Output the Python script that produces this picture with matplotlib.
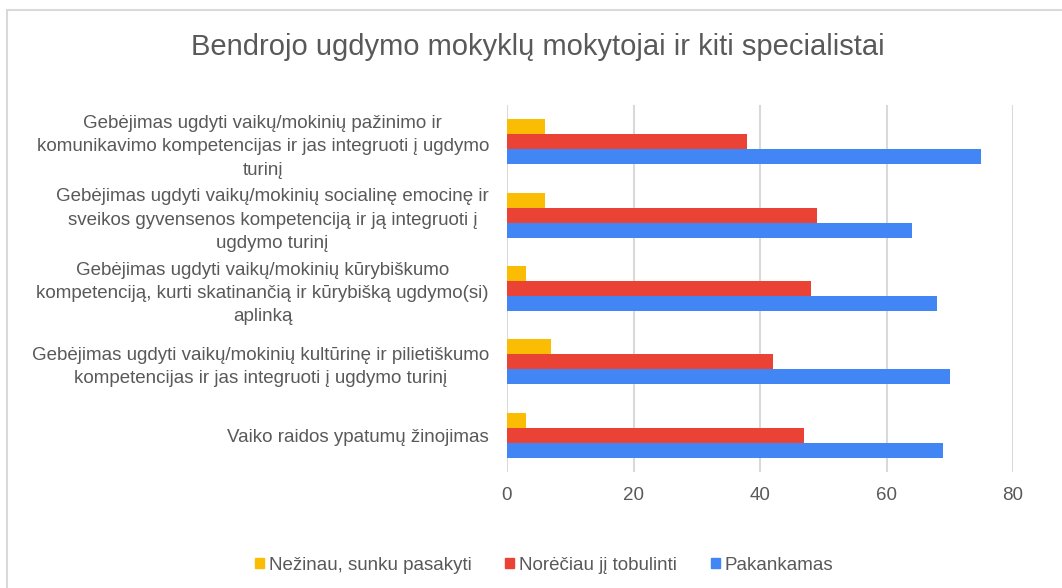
import matplotlib
matplotlib.use("Agg")
import matplotlib.pyplot as plt
import numpy as np
from matplotlib.patches import Patch, Rectangle

plt.rcParams["font.family"] = ["Liberation Sans", "DejaVu Sans"]

# ------------------------------------------------------------------ data
categories = [
    "Gebėjimas ugdyti vaikų/mokinių pažinimo ir\n"
    "komunikavimo kompetencijas ir jas integruoti į ugdymo\nturinį",
    "Gebėjimas ugdyti vaikų/mokinių socialinę emocinę ir\n"
    "sveikos gyvensenos kompetenciją ir ją integruoti į\nugdymo turinį",
    "Gebėjimas ugdyti vaikų/mokinių kūrybiškumo\n"
    "kompetenciją, kurti skatinančią ir kūrybišką ugdymo(si)\naplinką",
    "Gebėjimas ugdyti vaikų/mokinių kultūrinę ir pilietiškumo\n"
    "kompetencijas ir jas integruoti į ugdymo turinį",
    "Vaiko raidos ypatumų žinojimas",
]
series_names = ["Nežinau, sunku pasakyti", "Norėčiau jį tobulinti", "Pakankamas"]
nezinau = [6, 6, 3, 7, 3]
noreciau = [38, 49, 48, 42, 47]
pakankamas = [75, 64, 68, 70, 69]
x_ticks = [0, 20, 40, 60, 80]

colors = ["#FBBC04", "#EA4335", "#4285F4"]
TXT = "#595959"
GRID = "#D9D9D9"

# ------------------------------------------------------------------ figure
fig = plt.figure(figsize=(10.62, 5.88), dpi=100)
W, H = 1062, 588
ax = fig.add_axes([507 / W, 1 - 472 / H, (1013 - 507) / W, (472 - 105) / H])

# outer chart border
fig.patches.append(Rectangle((7 / W, -0.05), 1.2, 1 - 10 / H + 0.05,
                             transform=fig.transFigure, fill=False,
                             edgecolor=GRID, lw=1.5))

n = len(categories)
y = np.arange(n)
h = 0.205
for i, (vals, c) in enumerate(zip([nezinau, noreciau, pakankamas], colors)):
    ax.barh(y + (i - 1) * h, vals, height=h, color=c, label=series_names[i],
            zorder=3)

ax.set_ylim(n - 0.5, -0.5)
ax.set_xlim(0, 80)
ax.set_xticks(x_ticks)
ax.set_yticks(y)
ax.set_yticklabels(categories, fontsize=13.5, color=TXT, ha="right",
                   multialignment="center", linespacing=1.48)
ax.tick_params(axis="y", length=0, pad=13)
ax.tick_params(axis="x", length=0, pad=11, labelsize=13.5, labelcolor=TXT)
ax.xaxis.grid(True, color=GRID, lw=1.5, zorder=0)
for s in ax.spines.values():
    s.set_visible(False)

fig.text(538 / W, 1 - 47 / H, "Bendrojo ugdymo mokyklų mokytojai ir kiti specialistai",
         ha="center", va="center", fontsize=21, color=TXT)

handles = [Patch(color=c) for c in colors]
fig.legend(handles, series_names, loc="center", bbox_to_anchor=(544 / W, 1 - 565 / H),
           ncol=3, frameon=False, fontsize=13.5, labelcolor=TXT,
           handlelength=0.48, handleheight=0.48, handletextpad=0.27,
           columnspacing=1.8)

fig.savefig("out.png", dpi=100, facecolor="white")
